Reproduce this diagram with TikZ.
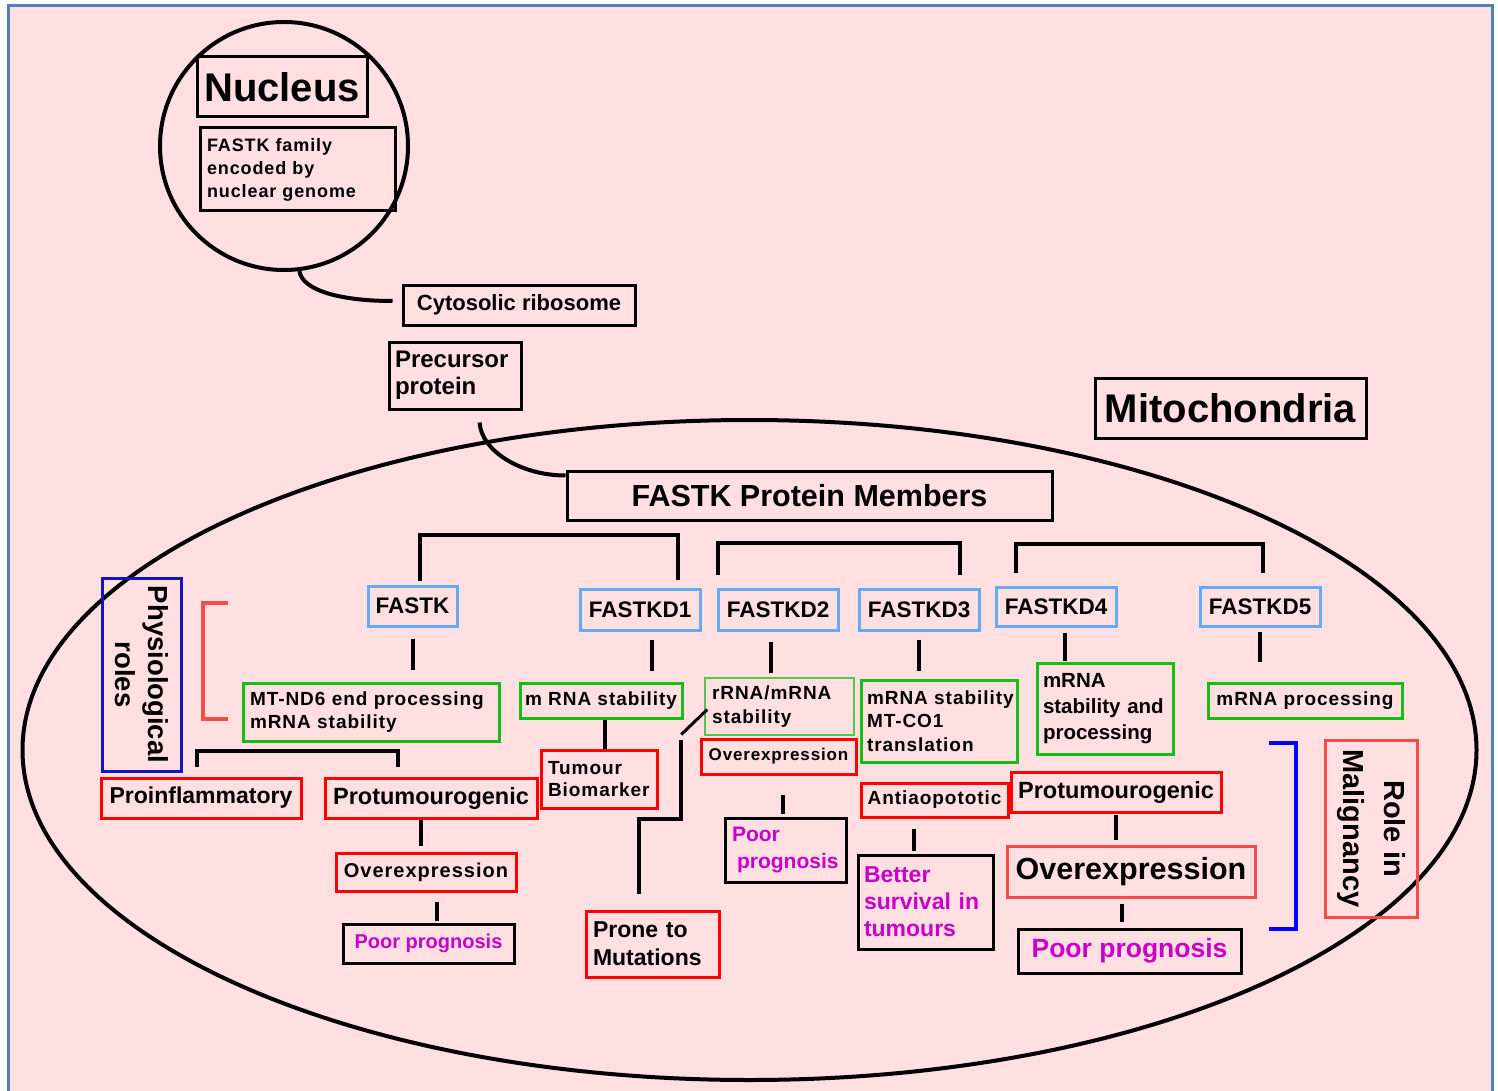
\documentclass[tikz,border=0pt]{standalone}
\usepackage{fontspec}
\setmainfont{Liberation Sans}
\newfontfamily\spaced{Liberation Sans}[LetterSpace=5]
\usepackage{tikz}
\newcommand{\txtsize}[2]{\fontsize{#1}{#2}\selectfont\bfseries}
\definecolor{pinkbg}{RGB}{255,223,224}
\definecolor{framebl}{RGB}{79,129,189}
\definecolor{kdblue}{RGB}{100,170,245}
\definecolor{rolegreen}{RGB}{20,190,20}
\definecolor{thingreen}{RGB}{80,200,80}
\definecolor{effred}{RGB}{255,0,0}
\definecolor{softred}{RGB}{245,75,75}
\definecolor{prog}{RGB}{200,0,200}
\definecolor{physblue}{RGB}{20,20,190}
\definecolor{malblue}{RGB}{0,0,255}
\tikzstyle{box}=[draw=black, line width=3pt, inner sep=0pt]
\tikzstyle{member}=[box, draw=kdblue, font=\txtsize{22.5}{26}]
\tikzstyle{task}=[box, draw=rolegreen]
\tikzstyle{effect}=[box, draw=effred]
\tikzstyle{outcome}=[box, draw=black, text=prog]
\tikzstyle{link}=[line width=4pt]

\begin{document}
\begin{tikzpicture}[x=1pt, y=-1pt]
\useasboundingbox (0,0) rectangle (1498,1091);
\fill[pinkbg] (8,6) rectangle (1492,1100);
\draw[framebl, line width=3pt] (8,6) rectangle (1492,1100);

% cell compartments
\draw[line width=4pt] (749.5,750) ellipse [x radius=727pt, y radius=330pt];
\node[circle, draw, line width=4pt, minimum size=248] (nuc) at (284,146) {};

\node[box, minimum width=170, minimum height=60, font=\txtsize{40}{44}] (nucname) at (282,87) {Nucleus};
\node[box, minimum width=195, minimum height=83, text width=181, inner xsep=7, align=left, font=\spaced\txtsize{18}{23}] (family) at (297.5,169.5) {FASTK family\\encoded by\\nuclear genome};
\node[box, minimum width=232, minimum height=40, font=\txtsize{22}{26}] (cyto) at (519,305) {Cytosolic ribosome};
\node[box, minimum width=132, minimum height=67, text width=120, inner xsep=6, align=left, font=\txtsize{24}{27}] (precursor) at (455,375.5) {\mbox{Precursor}\\protein};
\node[box, minimum width=485, minimum height=49, font=\txtsize{30.5}{34}] (members) at (809.5,495.5) {FASTK Protein Members};
\node[box, minimum width=271, minimum height=60, font=\txtsize{40}{44}] (mito) at (1230.5,408) {Mitochondria};

\draw[link] (nuc.-83) .. controls +(3,20) and +(-50,0) .. ([shift={(-9pt,4pt)}]cyto.west);
\draw[link, shorten <=12pt] (precursor.south -| 479,0) .. controls +(2,40) and +(-45,0) .. ([yshift=-6pt]members.north west);

% family members
\node[member, minimum width=89, minimum height=40] (fastk) at (412.5,606) {FASTK};
\node[member, minimum width=120, minimum height=41] (kd1) at (640,609.5) {FASTKD1};
\node[member, minimum width=120, minimum height=41] (kd2) at (778,609.5) {FASTKD2};
\node[member, minimum width=120, minimum height=41] (kd3) at (919,609.5) {FASTKD3};
\node[member, minimum width=120, minimum height=39] (kd4) at (1056,606.5) {FASTKD4};
\node[member, minimum width=120, minimum height=39] (kd5) at (1260,606.5) {FASTKD5};

\draw[link] ([shift={(7.5pt,4pt)}]fastk.north) -- ++(0,-46) -| ([shift={(38pt,7.5pt)}]kd1.north);
\draw[link] ([shift={(-60pt,12.5pt)}]kd2.north) -- ++(0,-32) -| ([shift={(41pt,12.5pt)}]kd3.north);
\draw[link] ([shift={(-40pt,13pt)}]kd4.north) -- ++(0,-29) -| ([shift={(3pt,13pt)}]kd5.north);

% physiological roles
\node[task, minimum width=256, minimum height=58, text width=242, inner xsep=7, align=left, font=\spaced\txtsize{19}{23}] (mtnd6) at (371,712) {\mbox{MT-ND6 end processing}\\mRNA stability};
\node[task, minimum width=162, minimum height=35, font=\spaced\txtsize{19}{23}] (mrna1) at (601,700.5) {m RNA stability};
\node[task, draw=thingreen, line width=1.5pt, minimum width=149, minimum height=57, text width=135, inner xsep=7, align=left, font=\spaced\txtsize{19}{24}] (rrna) at (779.5,706.5) {rRNA/mRNA\\stability};
\node[task, minimum width=156, minimum height=82, text width=144, inner xsep=6, align=left, font=\spaced\txtsize{19}{23.5}] (co1) at (939,721) {\mbox{mRNA stability}\\MT-CO1\\translation};
\node[task, minimum width=136, minimum height=91, text width=124, inner xsep=6, align=left, font=\txtsize{20.5}{26}] (kd4fn) at (1105,708.5) {mRNA\\\mbox{stability and}\\processing};
\node[task, minimum width=194, minimum height=35, font=\spaced\txtsize{19}{23}] (kd5fn) at (1305,700.5) {mRNA processing};

\draw[link, shorten <=11pt, shorten >=12pt] (fastk.south) -- (fastk.south |- mtnd6.north);
\draw[link, shorten <=8pt, shorten >=11pt] ([xshift=12pt]kd1.south) -- ([xshift=12pt]kd1.south |- mrna1.north);
\draw[link, shorten <=10pt, shorten >=4pt] ([xshift=-7pt]kd2.south) -- ([xshift=-7pt]kd2.south |- rrna.north);
\draw[link, shorten <=8pt, shorten >=8pt] (kd3.south) -- (kd3.south |- co1.north);
\draw[link, shorten <=5pt, shorten >=1pt] ([xshift=9pt]kd4.south) -- ([xshift=9pt]kd4.south |- kd4fn.north);
\draw[link, shorten <=4pt, shorten >=20pt] (kd5.south) -- (kd5.south |- kd5fn.north);

% role in malignancy
\node[effect, minimum width=200, minimum height=40, font=\txtsize{23}{27}] (proinf) at (201,798) {Proinflammatory};
\node[effect, minimum width=212, minimum height=40, font=\txtsize{23.5}{27}] (protumL) at (431,798) {Protumourogenic};
\node[effect, minimum width=180, minimum height=38, font=\spaced\txtsize{20}{24}] (overL) at (426,872) {Overexpression};
\node[outcome, minimum width=171, minimum height=39, font=\txtsize{20}{24}] (poorL) at (428.5,943.5) {Poor prognosis};
\node[effect, minimum width=116, minimum height=58, text width=102, inner xsep=7, align=left, font=\spaced\txtsize{19}{22}] (tumour) at (599,779) {Tumour\\\mbox{Biomarker}};
\node[effect, minimum width=133, minimum height=66, text width=119, inner xsep=7, align=left, font=\txtsize{23}{28}] (prone) at (652.5,944) {Prone to\\Mutations};
\node[effect, minimum width=155, minimum height=35, font=\spaced\txtsize{17}{21}] (overKD2) at (778.5,756.5) {Overexpression};
\node[outcome, minimum width=121, minimum height=64, text width=107, inner xsep=7, align=left, font=\txtsize{21}{27}] (poorKD2) at (785.5,850) {Poor\\\mbox{\hspace*{5pt}prognosis}};
\node[effect, minimum width=147, minimum height=34, font=\spaced\txtsize{19}{23}] (anti) at (934.5,800) {Antiaopototic};
\node[outcome, minimum width=135, minimum height=94, text width=123, inner xsep=6, align=left, font=\txtsize{23}{27}] (better) at (925.5,902) {Better\\survival in\\tumours};
\node[effect, minimum width=210, minimum height=40, font=\txtsize{23.5}{27}] (protumR) at (1116,792) {Protumourogenic};
\node[effect, draw=softred, minimum width=248, minimum height=51, font=\txtsize{30.5}{34}] (overR) at (1131,871.5) {Overexpression};
\node[outcome, minimum width=223, minimum height=44, font=\txtsize{26.5}{30}] (poorR) at (1129.5,951) {Poor prognosis};

\draw[link] ([shift={(-4pt,10pt)}]proinf.north) -- ++(0,-16) -| ([shift={(-33pt,10pt)}]protumL.north);
\draw[link, shorten >=6pt] ([xshift=-10pt]protumL.south) -- ([xshift=-10pt]protumL.south |- overL.north);
\draw[link, shorten <=9pt, shorten >=2pt] ([xshift=11pt]overL.south) -- ([xshift=11pt]overL.south |- poorL.north);
\draw[link] ([xshift=4pt]mrna1.south) -- ([xshift=4pt]mrna1.south |- tumour.north);
\draw[link, line width=3pt] ([shift={(3pt,-3pt)}]rrna.west) -- ++(-26,25) coordinate (bend);
\draw[link] ([yshift=-5pt]bend) -- ++(0,79) -| ([shift={(-13.5pt,16pt)}]prone.north);
\draw[link, shorten <=19pt, shorten >=3pt] ([xshift=4.5pt]overKD2.south) -- ([xshift=4.5pt]overKD2.south |- poorKD2.north);
\draw[link, shorten <=10pt, shorten >=3pt] ([xshift=-20.5pt]anti.south) -- ([xshift=-20.5pt]anti.south |- better.north);
\draw[link, shorten <=1pt, shorten >=5pt] (protumR.south) -- (protumR.south |- overR.north);
\draw[link, shorten <=5pt, shorten >=6pt] ([xshift=-9pt]overR.south) -- ([xshift=-9pt]overR.south |- poorR.north);

% side labels
\node[box, draw=physblue, rotate=-90, minimum width=193, minimum height=79, align=center, font=\txtsize{27.5}{33}] (phys) at (141.5,674.5) {Physiological\\roles};
\draw[link, softred] (228,603) -| (203,719) -- (228,719);
\node[box, draw=softred, rotate=-90, minimum width=177, minimum height=92, align=center, font=\txtsize{29}{41}] (malig) at (1371,828.5) {Role in\\Malignancy};
\draw[link, malblue] (1269,743) -| (1296,929) -- (1269,929);
\end{tikzpicture}
\end{document}
